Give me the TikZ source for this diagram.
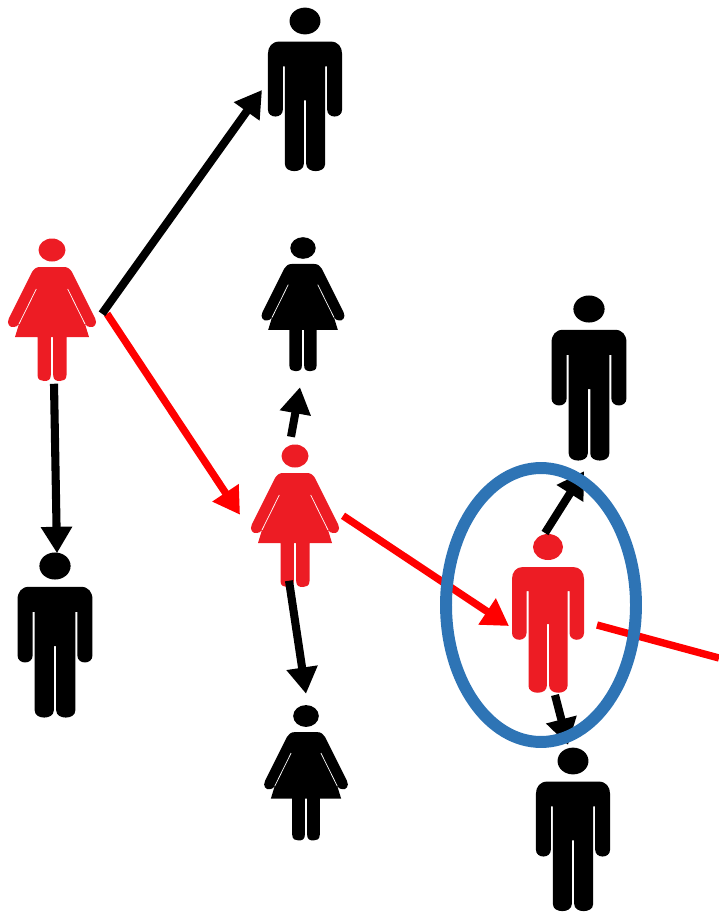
\documentclass[tikz,border=0pt]{standalone}
\usepackage{tikz}
\usetikzlibrary{arrows.meta, shapes.geometric}
\definecolor{figred}{HTML}{ED1C24}
\definecolor{ringblue}{HTML}{2E74B5}
\begin{document}
\begin{tikzpicture}[
  x=0.02cm, y=-0.02cm,
  redfig/.style={fill=figred},
  blackfig/.style={fill=black},
  figbox/.style={inner sep=0pt, outer sep=0pt, transform shape},
  arr/.style={-{Triangle[length=15pt,width=17pt]}, line width=4.6pt, black},
  redarr/.style={arr, red, line width=4.2pt},
  ring/.style={draw=ringblue, line width=6.8pt, ellipse, inner sep=0pt, outer sep=0pt,
               minimum width=3.8cm, minimum height=5.48cm},
  man/.pic={
    \fill[pic actions] (0,0) ellipse [x radius=15, y radius=13];
    \fill[pic actions] (-25,20) -- (25,20) .. controls (32,20) and (36,25) .. (36,32)
      -- (36,86) .. controls (36,95) and (21.5,95) .. (21.5,86) -- (21.5,44) -- (19.5,44)
      -- (19.5,139) .. controls (19.5,148) and (1.2,148) .. (1.2,139) -- (1.2,77) -- (-1.2,77)
      -- (-1.2,139) .. controls (-1.2,148) and (-19.5,148) .. (-19.5,139) -- (-19.5,44) -- (-21.5,44)
      -- (-21.5,86) .. controls (-21.5,95) and (-36,95) .. (-36,86) -- (-36,32)
      .. controls (-36,25) and (-32,20) .. (-25,20) -- cycle;
    \node[figbox, minimum width=1.44cm, minimum height=3.18cm] (-b) at (0,66.5) {};
  },
  woman/.pic={
    \fill[pic actions] (0,0) ellipse [x radius=13.5, y radius=11.5];
    \fill[pic actions] (-12,17) -- (12,17) .. controls (16,17) and (18,19) .. (20,22)
      -- (43,68) .. controls (46,74) and (42,78) .. (38,77) .. controls (36,77) and (35,76) .. (33,74)
      -- (37,87) -- (14.5,87) -- (14.5,125) .. controls (14.5,130) and (11,131) .. (8,131)
      .. controls (4,131) and (1.2,130) .. (1.2,125) -- (1.2,87) -- (-1.2,87) -- (-1.2,125)
      .. controls (-1.2,130) and (-4,131) .. (-8,131) .. controls (-11,131) and (-14.5,130) .. (-14.5,125)
      -- (-14.5,87) -- (-37,87) -- (-33,74) .. controls (-35,76) and (-36,77) .. (-38,77)
      .. controls (-42,78) and (-46,74) .. (-43,68) -- (-20,22)
      .. controls (-18,19) and (-16,17) .. (-12,17) -- cycle;
    \draw[white, line width=0.4pt] (-15.7,39) -- (-33,74) (15.7,39) -- (33,74);
    \node[figbox, minimum width=1.76cm, minimum height=2.85cm] (-b) at (0,59.75) {};
  }
]
\useasboundingbox (0,0) rectangle (719,913);
% Red chain
\pic[redfig] (wfirst) at (52,250) {woman};
\pic[redfig] (wmid) at (295,456) {woman};
\pic[redfig] (mlast) at (548,547) {man};
% Black figures
\pic[blackfig, scale=1.03] (mtop) at (305,21) {man};
\pic[blackfig, scale=0.94] (wtop) at (303,248) {woman};
\pic[blackfig, scale=1.04] (mright) at (589,309) {man};
\pic[blackfig, scale=1.04] (mleft) at (55,566) {man};
\pic[blackfig, scale=0.95] (wlow) at (306,716) {woman};
\pic[blackfig, scale=1.03] (mlow) at (573,761) {man};
\coordinate (redout) at (719,658);
% Arrows
\draw[redarr] ([shift={(55,4)}]wfirst-b.center) -- ([shift={(-55,-1)}]wmid-b.center);
\draw[redarr] ([shift={(48,0)}]wmid-b.center) -- ([shift={(-39,12.5)}]mlast-b.center);
\draw[red, line width=4.2pt] ([shift={(49,11.5)}]mlast-b.center) -- (redout);
\draw[arr] ([shift={(50,4)}]wfirst-b.center) -- ([shift={(-43,0.5)}]mtop-b.center);
\draw[arr] ([shift={(2,74)}]wfirst-b.center) -- ([shift={(2,-82)}]mleft-b.center);
\draw[arr] ([shift={(-4,-79)}]wmid-b.center) -- ([shift={(-3,83)}]wtop-b.center);
\draw[arr] ([shift={(-6,65)}]wmid-b.center) -- ([shift={(0,-79)}]wlow-b.center);
\draw[arr] ([shift={(-3,-80.5)}]mlast-b.center) -- ([shift={(-5,93)}]mright-b.center);
\draw[arr] ([shift={(7,81.5)}]mlast-b.center) -- ([shift={(-5,-84.5)}]mlow-b.center);
% Ring
\node[ring] (focus) at (541,605) {};
\end{tikzpicture}
\end{document}
